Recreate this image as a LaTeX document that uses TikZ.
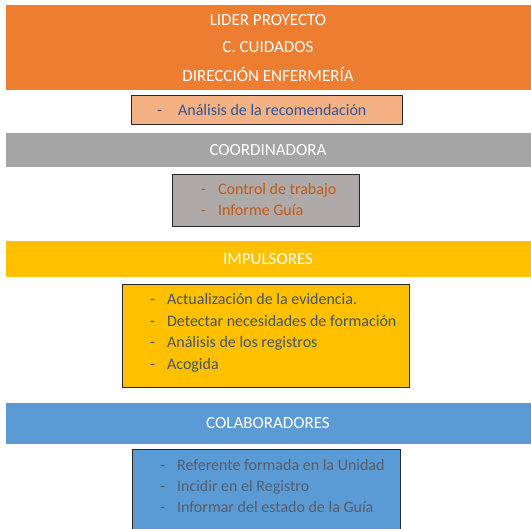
\documentclass[tikz,border=0pt]{standalone}
\usepackage{fontspec}
\setmainfont{Carlito}
\definecolor{naranja}{HTML}{ED7D31}
\definecolor{naranjaclaro}{HTML}{F4B183}
\definecolor{gris}{HTML}{A5A5A5}
\definecolor{grisbox}{HTML}{AEAAAA}
\definecolor{amarillo}{HTML}{FFC000}
\definecolor{azul}{HTML}{5B9BD5}
\definecolor{txtazul}{HTML}{2F5597}
\definecolor{txtpizarra}{HTML}{44546A}
\definecolor{txtgris}{HTML}{575E6A}
\definecolor{txtnaranja}{HTML}{C55A11}
\tikzset{band/.style={draw=none}, caja/.style={draw=black!85, line width=0.8pt},
	titulo/.style={text=white, font=\fontsize{17}{20}\selectfont, inner sep=0},
	item/.style={anchor=base west, inner sep=0, font=\fontsize{16}{19}\selectfont}}
\newcommand{\guion}[1]{-\hspace{16pt}#1}
\newcommand{\guionc}[1]{-\hspace{12pt}#1}
\begin{document}
\begin{tikzpicture}[x=1pt, y=-1pt, line join=round]
	\useasboundingbox (0,0) rectangle (531,529);
	% lider proyecto
	\fill[naranja] (6,5) rectangle (531,90);
	\node[titulo] (lider) at (268,20.5) {LIDER PROYECTO};
	\node[titulo] (cuidados) at (268,47.5) {C. CUIDADOS};
	\node[titulo] (direccion) at (268,74) {DIRECCIÓN ENFERMERÍA};
	\draw[caja, fill=naranjaclaro] (131,95) rectangle (402,124);
	\node[item, text=txtazul] (analisis) at (157,115.5) {\guion{Análisis de la recomendación}};
	% coordinadora
	\fill[gris] (6,133) rectangle (531,167);
	\node[titulo] (coord) at (268,150) {COORDINADORA};
	\draw[caja, fill=grisbox] (172,174) rectangle (359,226);
	\foreach \t [count=\i] in {Control de trabajo, Informe Guía}
		\node[item, text=txtnaranja] (coord\i) at (201,{194.5+21.5*(\i-1)}) {\guionc{\t}};
	% impulsores
	\fill[amarillo] (6,241) rectangle (531,277);
	\node[titulo] (impul) at (268,259) {IMPULSORES};
	\draw[caja, fill=amarillo] (122,284) rectangle (409,387);
	\foreach \t [count=\i] in {Actualización de la evidencia., Detectar necesidades de formación, Análisis de los registros, Acogida}
		\node[item, text=txtpizarra] (impul\i) at (150,{304.5+21.7*(\i-1)}) {\guionc{\t}};
	% colaboradores
	\fill[azul] (6,403) rectangle (531,444);
	\node[titulo] (colab) at (268,423) {COLABORADORES};
	\draw[caja, fill=azul] (132,535) -- (132,449) -- (400,449) -- (400,535);
	\foreach \t [count=\i] in {Referente formada en la Unidad, Incidir en el Registro, Informar del estado de la Guía}
		\node[item, text=txtgris] (colab\i) at (160,{470.5+21*(\i-1)}) {\guionc{\t}};
\end{tikzpicture}
\end{document}
